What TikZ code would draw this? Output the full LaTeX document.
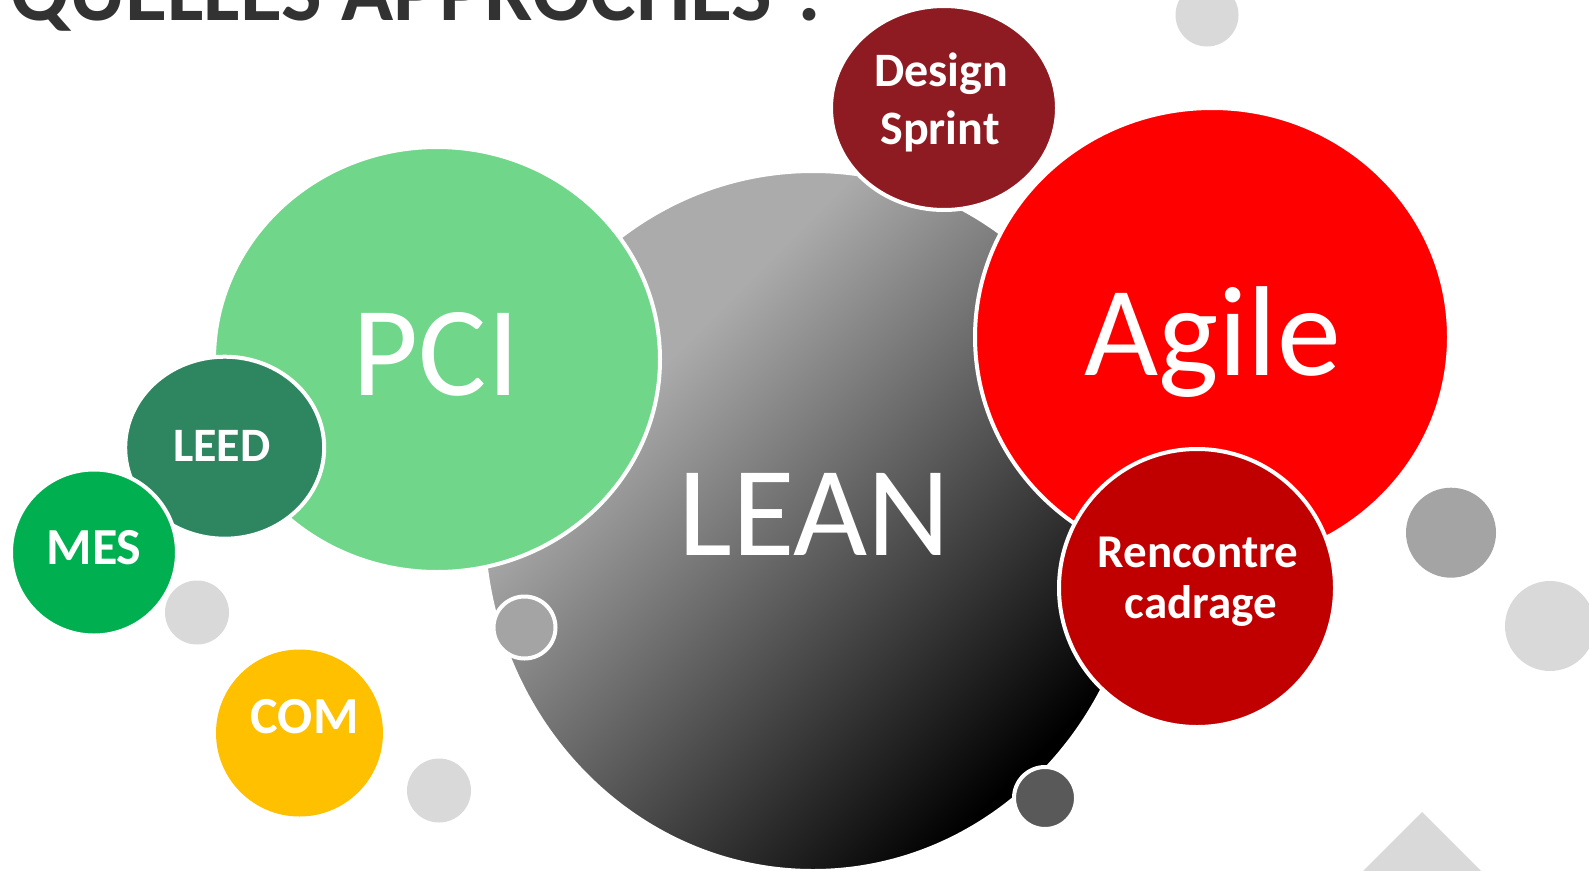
\documentclass[tikz,border=0pt]{standalone}
\usepackage{fontspec}
\setmainfont{Carlito}
\usetikzlibrary{shapes.geometric}

\definecolor{titlegray}{RGB}{50,50,50}
\definecolor{leanlight}{RGB}{171,171,171}
\definecolor{pcigreen}{RGB}{112,214,138}
\definecolor{leedgreen}{RGB}{46,134,96}
\definecolor{mesgreen}{RGB}{0,176,80}
\definecolor{comyellow}{RGB}{255,192,0}
\definecolor{designred}{RGB}{142,27,34}
\definecolor{agilered}{RGB}{255,0,0}
\definecolor{rencred}{RGB}{192,0,0}
\definecolor{lightdot}{RGB}{217,217,217}
\definecolor{middot}{RGB}{164,164,164}
\definecolor{darkdot}{RGB}{89,89,89}

\pgfdeclarehorizontalshading{leanfill}{100bp}{color(0bp)=(leanlight); color(34bp)=(leanlight); color(74bp)=(black); color(100bp)=(black)}

\begin{document}
\begin{tikzpicture}[x=1pt,y=-1pt]
   \tikzstyle{bubble}=[ellipse,draw=white,line width=4pt,inner sep=0pt]
   \tikzstyle{dot}=[circle,draw=white,line width=4pt,inner sep=0pt]
   \tikzstyle{huge}=[text=white,inner sep=0pt,anchor=base,font=\fontsize{128}{128}\selectfont]
   \tikzstyle{tag}=[text=white,inner sep=0pt,anchor=base,font=\fontsize{48}{48}\selectfont\bfseries]
   \useasboundingbox (0,0) rectangle (1589,870);
   \node (title) [anchor=base west,inner sep=0pt,text=titlegray,font=\fontsize{86}{86}\selectfont\bfseries] at (10,20.5) {QUELLES APPROCHES ?};
   % big bubbles
   \node (lean) [bubble,shade,shading=leanfill,shading angle=-45,minimum width=660pt,minimum height=700pt] at (813,521) {};
   \node (pci) [bubble,fill=pcigreen,minimum width=446pt,minimum height=425pt] at (437,359.5) {};
   \node (leed) [bubble,fill=leedgreen,minimum width=199pt,minimum height=182pt] at (224.7,447.7) {};
   \node (dotA) [dot,draw=none,fill=lightdot,minimum size=64pt] at (197,612.5) {};
   \node (mes) [bubble,fill=mesgreen,minimum width=166pt,minimum height=166pt] at (94,552.5) {};
   \node (com) [bubble,draw=none,fill=comyellow,minimum width=167pt,minimum height=167pt] at (299.5,733) {};
   \node (dotB) [dot,draw=none,fill=lightdot,minimum size=64pt] at (439,790.5) {};
   \node (design) [bubble,fill=designred,minimum width=226pt,minimum height=204pt] at (944,108) {};
   \node (agile) [bubble,fill=agilered,minimum width=474pt,minimum height=458pt] at (1212,337) {};
   \node (rencontre) [bubble,fill=rencred,minimum width=276pt,minimum height=278pt] at (1197,588) {};
   % small dots
   \node (dotC) [dot,fill=middot,minimum size=62pt] at (524.5,627.5) {};
   \node (dotD) [dot,fill=darkdot,minimum size=62pt] at (1045,798) {};
   \node (dotE) [dot,draw=none,fill=middot,minimum size=90pt] at (1451,532.7) {};
   \node (dotF) [dot,draw=none,fill=lightdot,minimum size=90pt] at (1550,626) {};
   \node (dotG) [dot,draw=none,fill=lightdot,minimum size=63pt] at (1207,15) {};
   \fill [lightdot] (1422,812) -- (1540,930) -- (1422,1048) -- (1304,930) -- cycle;
   % labels
   \node (leantxt) [huge] at (814.5,555) {LEAN};
   \node (pcitxt) [huge] at (436,395) {PCI};
   \node (agiletxt) [huge] at (1212.5,375) {Agile};
   \node (designtxt) [tag] at (941,86.7) {Design};
   \node (sprinttxt) [tag] at (940,144.3) {Sprint};
   \node (renctxt) [tag,font=\fontsize{47}{47}\selectfont\bfseries] at (1198,567) {Rencontre};
   \node (cadtxt) [tag,font=\fontsize{47}{47}\selectfont\bfseries] at (1201,618) {cadrage};
   \node (leedtxt) [tag,font=\fontsize{48}{48}\selectfont\bfseries] at (221.7,461.7) {LEED};
   \node (mestxt) [tag,font=\fontsize{52}{52}\selectfont\bfseries] at (94,564) {MES};
   \node (comtxt) [tag,font=\fontsize{52}{52}\selectfont\bfseries] at (304.7,733.3) {COM};
\end{tikzpicture}
\end{document}
